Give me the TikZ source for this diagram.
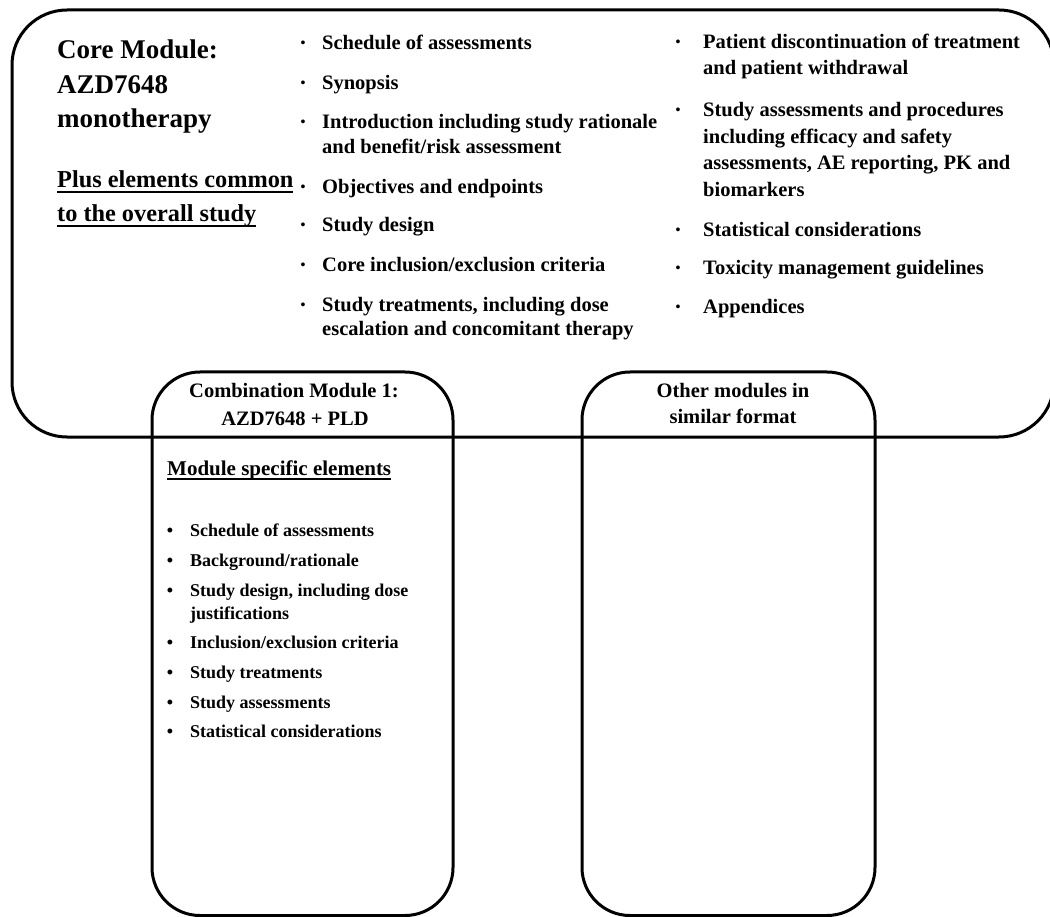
\documentclass[tikz,border=0pt]{standalone}
\usepackage{fontspec}
\setmainfont{Liberation Serif}
\newcommand\myul[1]{\setbox0=\hbox{#1}\rlap{\rule[-5pt]{\wd0}{1.8pt}}\box0}
\newcommand\mybitem[7]{% name, bullet x, text x, baseline, text style, bullet style, text
  \node[#6,anchor=base,inner sep=0pt] (#1b) at (#2,#4) {\textbullet};
  \node[#5,anchor=base west,inner sep=0pt] (#1) at (#3,#4) {#7};}
\newcommand\twoline[3]{\vtop{\baselineskip=#1\hbox{#2}\hbox{#3}}}
\newcommand\fourline[5]{\vtop{\baselineskip=#1\hbox{#2}\hbox{#3}\hbox{#4}\hbox{#5}}}
\tikzset{
  frame/.style={draw=black, line width=3pt, rounded corners=55pt},
  modbox/.style={draw=black, line width=3pt, rounded corners=48pt},
  big/.style={font=\bfseries\fontsize{20.5}{25}\selectfont},
  bigbul/.style={font=\bfseries\fontsize{14}{16}\selectfont, yshift=2.5pt},
  small/.style={font=\bfseries\fontsize{18}{22.5}\selectfont},
  smallbul/.style={font=\bfseries\fontsize{18}{22.5}\selectfont},
  ttl/.style={anchor=base west, inner sep=0pt, font=\bfseries\fontsize{27}{35}\selectfont},
  sub/.style={anchor=base west, inner sep=0pt, font=\bfseries\fontsize{24.3}{34}\selectfont},
  head/.style={anchor=base, inner sep=0pt, font=\bfseries\fontsize{20.5}{28}\selectfont},
}
\begin{document}
\begin{tikzpicture}[x=1pt,y=-1pt]
\useasboundingbox (0,0) rectangle (1050,917);
\clip (0,0) rectangle (1050,917);
% boxes
\draw[frame] (12,10) rectangle (1054,437);
\draw[modbox] (152,372) rectangle (453,915.5);
\draw[modbox] (582,372) rectangle (875,915.5);
% core title
\node[ttl] (t1) at (57,59) {Core Module:};
\node[ttl] (t2) at (57,93.5) {AZD7648};
\node[ttl] (t3) at (57,128) {monotherapy};
\node[sub] (p1) at (57,188) {\myul{Plus elements common}};
\node[sub] (p2) at (57,222) {\myul{to the overall study}};
% left column
\mybitem{a1}{303}{322}{50}{big}{bigbul}{Schedule of assessments}
\mybitem{a2}{303}{322}{90}{big}{bigbul}{Synopsis}
\mybitem{a3}{303}{322}{129}{big}{bigbul}{\twoline{25pt}{Introduction including study rationale}{and benefit/risk assessment}}
\mybitem{a4}{303}{322}{194}{big}{bigbul}{Objectives and endpoints}
\mybitem{a5}{303}{322}{232}{big}{bigbul}{Study design}
\mybitem{a6}{303}{322}{272}{big}{bigbul}{Core inclusion/exclusion criteria}
\mybitem{a7}{303}{322}{312}{big}{bigbul}{\twoline{24pt}{Study treatments, including dose}{escalation and concomitant therapy}}
% right column
\mybitem{b1}{678}{703}{49}{big}{bigbul}{\twoline{26pt}{Patient discontinuation of treatment}{and patient withdrawal}}
\mybitem{b2}{678}{703}{117}{big}{bigbul}{\fourline{26.5pt}{Study assessments and procedures}{including efficacy and safety}{assessments, AE reporting, PK and}{biomarkers}}
\mybitem{b3}{678}{703}{237}{big}{bigbul}{Statistical considerations}
\mybitem{b4}{678}{703}{275}{big}{bigbul}{Toxicity management guidelines}
\mybitem{b5}{678}{703}{314}{big}{bigbul}{Appendices}
% combination module
\node[head] (c1) at (294,397) {Combination Module 1:};
\node[head] (c2) at (295,425) {AZD7648 + PLD};
\node[anchor=base west, inner sep=0pt, font=\bfseries\fontsize{21}{25}\selectfont] (ms) at (167,475) {\myul{Module specific elements}};
\mybitem{m1}{170}{190}{536}{small}{smallbul}{Schedule of assessments}
\mybitem{m2}{170}{190}{566}{small}{smallbul}{Background/rationale}
\mybitem{m3}{170}{190}{596}{small}{smallbul}{\twoline{23pt}{Study design, including dose}{justifications}}
\mybitem{m4}{170}{190}{648}{small}{smallbul}{Inclusion/exclusion criteria}
\mybitem{m5}{170}{190}{678}{small}{smallbul}{Study treatments}
\mybitem{m6}{170}{190}{708}{small}{smallbul}{Study assessments}
\mybitem{m7}{170}{190}{737}{small}{smallbul}{Statistical considerations}
% other modules
\node[head] (o1) at (733,397) {Other modules in};
\node[head] (o2) at (733,424) {similar format};
\end{tikzpicture}
\end{document}
